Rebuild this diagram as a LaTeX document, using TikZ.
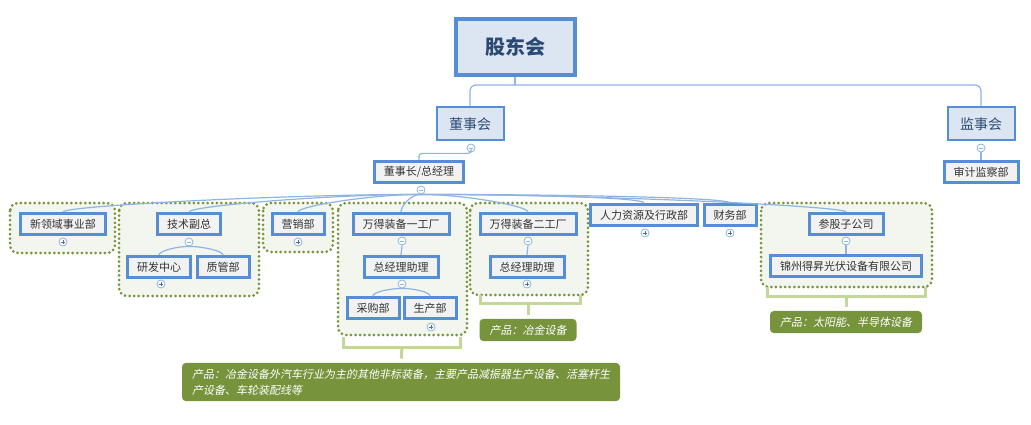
\documentclass[tikz,border=0pt]{standalone}
\usepackage{fontspec}
\setmainfont{Noto Sans CJK SC}
\newfontfamily\noteit[FakeSlant=0.2]{Noto Sans CJK SC}
\definecolor{boxline}{HTML}{558ED5}
\definecolor{boxfill}{HTML}{F2F2F2}
\definecolor{topfill}{HTML}{DCE6F2}
\definecolor{linec}{HTML}{8EB4E3}
\definecolor{olivec}{HTML}{77933C}
\definecolor{grpfill}{HTML}{F3F6EE}
\definecolor{brkc}{HTML}{C3D69B}
\definecolor{txtc}{HTML}{333333}
\definecolor{toptxt}{HTML}{2B4A73}

\begin{document}
\begin{tikzpicture}[
  x=1pt, y=1pt,
  deptbox/.style={
    draw=boxline,
    line width=3pt,
    fill=boxfill,
    text=txtc,
    font=\fontsize{11}{13}\selectfont,
    inner xsep=9.5pt,
    inner ysep=0pt,
    minimum height=21pt
  },
  boardbox/.style={
    draw=boxline,
    line width=2pt,
    fill=topfill,
    text=toptxt,
    font=\fontsize{14}{16}\selectfont,
    minimum width=67pt,
    minimum height=33pt
  },
  topbox/.style={
    draw=boxline,
    line width=4pt,
    fill=topfill,
    text=toptxt,
    font=\bfseries\fontsize{20}{24}\selectfont,
    minimum width=119pt,
    minimum height=56pt
  },
  linkline/.style={draw=linec, line width=1.2pt},
  minusmark/.style={
    circle,
    draw=linec,
    fill=white,
    line width=0.8pt,
    minimum size=8pt,
    inner sep=0pt,
    path picture={
      \draw[linec, line width=0.8pt] ([xshift=-2.2pt]path picture bounding box.center) -- ([xshift=2.2pt]path picture bounding box.center);
    }
  },
  plusmark/.style={
    circle,
    draw=linec,
    fill=white,
    line width=0.8pt,
    minimum size=8pt,
    inner sep=0pt,
    path picture={
      \draw[linec!60!black, line width=0.8pt] ([xshift=-2.2pt]path picture bounding box.center) -- ([xshift=2.2pt]path picture bounding box.center);
      \draw[linec!60!black, line width=0.8pt] ([yshift=-2.2pt]path picture bounding box.center) -- ([yshift=2.2pt]path picture bounding box.center);
    }
  },
  groupframe/.style={
    draw=olivec,
    fill=grpfill,
    line width=3pt,
    dash pattern=on 0pt off 4.6pt,
    line cap=round,
    rounded corners=8pt
  },
  bracketline/.style={draw=brkc, line width=3pt},
  notebox/.style={
    fill=olivec,
    rounded corners=4pt,
    text=white,
    font=\noteit\fontsize{11}{16}\selectfont,
    align=left,
    inner xsep=10pt,
    inner ysep=6pt
  }
]
\useasboundingbox (0,0) rectangle (1031,-425);

% groups
\draw[groupframe] (10,-203) rectangle (115,-253);
\draw[groupframe] (119,-203) rectangle (259,-296);
\draw[groupframe] (263,-203) rectangle (333,-252);
\draw[groupframe] (338,-203) rectangle (467,-335);
\draw[groupframe] (470,-203) rectangle (588,-295);
\draw[groupframe] (761,-203) rectangle (932,-287);

\draw[bracketline] (343,-337) -- (343,-347) -- (460,-347) -- (460,-337);
\draw[bracketline] (480,-295) -- (480,-303) -- (580,-303) -- (580,-295);
\draw[bracketline] (767,-287) -- (767,-296) -- (925,-296) -- (925,-287);

% boxes
\node[topbox] (gdh) at (515,-47) {股东会};
\node[boardbox] (dsh) at (470,-124) {董事会};
\node[boardbox] (jsh) at (981,-124) {监事会};
\node[deptbox] (dsz) at (419,-172) {董事长/总经理};
\node[deptbox] (sjb) at (981,-172) {审计监察部};

\node[deptbox] (xly) at (63,-224) {新领域事业部};
\node[deptbox] (jsf) at (189,-224) {技术副总};
\node[deptbox] (yfz) at (159,-267) {研发中心};
\node[deptbox] (zgb) at (223,-267) {质管部};
\node[deptbox] (yxb) at (298,-224) {营销部};
\node[deptbox] (gc1) at (401,-224) {万得装备一工厂};
\node[deptbox] (zl1) at (401,-267) {总经理助理};
\node[deptbox] (cgb) at (373,-308) {采购部};
\node[deptbox] (scb) at (430,-308) {生产部};
\node[deptbox] (gc2) at (528,-224) {万得装备二工厂};
\node[deptbox] (zl2) at (527,-267) {总经理助理};
\node[deptbox] (rlz) at (644,-215) {人力资源及行政部};
\node[deptbox] (cwb) at (730,-215) {财务部};
\node[deptbox] (cgz) at (846,-224) {参股子公司};
\node[deptbox] (jzd) at (846,-266) {锦州得昇光伏设备有限公司};

\node[notebox] (co1) at (401,-382) {产品：冶金设备外汽车行业为主的其他非标装备，主要产品减振器生产设备、活塞杆生\\产设备、车轮装配线等};
\node[notebox] (co2) at (528,-330) {产品：冶金设备};
\node[notebox] (co3) at (846,-322) {产品：太阳能、半导体设备};

\draw[bracketline, shorten >=4pt] (402,-347) -- (co1.north);
\draw[bracketline, shorten >=4pt] (528,-303) -- (co2.north);
\draw[bracketline, shorten >=4pt] (846,-296) -- (co3.north);

% expand marks
\node[minusmark] (dshm) at (471,-148) {};
\node[minusmark] (jshm) at (981,-148) {};
\node[minusmark] (dszm) at (421,-190) {};
\node[minusmark] (jsfm) at (189,-242) {};
\node[minusmark] (gc1m) at (402,-241) {};
\node[minusmark] (zl1m) at (402,-284) {};
\node[minusmark] (gc2m) at (528,-241) {};
\node[minusmark] (cgzm) at (846,-241) {};
\node[plusmark] (xlyp) at (63,-242) {};
\node[plusmark] (yfzp) at (161,-284) {};
\node[plusmark] (yxbp) at (298,-242) {};
\node[plusmark] (scbp) at (431,-327) {};
\node[plusmark] (zl2p) at (527,-284) {};
\node[plusmark] (rlzp) at (645,-233) {};
\node[plusmark] (cwbp) at (730,-233) {};

% links
\coordinate (gdhj) at (515,-85);
\draw[linkline] (gdh.south) -- (gdhj);
\draw[linkline, rounded corners=6pt] (dsh.north) |- (gdhj) -| (jsh.north);
\draw[linkline, rounded corners=3pt] (dshm.south) -- ++(0,-1) -| (dsz.north);
\draw[linkline] (jshm.south) -- (sjb.north);
\foreach \kid/\dir in {xly/180,jsf/180,yxb/180,gc1/180,gc2/0,rlz/0,cwb/0,cgz/0}
  \draw[linkline] (dszm.south) to[out=\dir, in=90, in distance=6pt] (\kid.north);
\draw[linkline] (jsfm.south) to[out=180, in=90, in distance=4pt] (yfz.north);
\draw[linkline] (jsfm.south) to[out=0, in=90, in distance=4pt] (zgb.north);
\draw[linkline] (zl1m.south) to[out=180, in=90, in distance=4pt] (cgb.north);
\draw[linkline] (zl1m.south) to[out=0, in=90, in distance=4pt] (scb.north);
\draw[linkline] (gc1m.south) -- (zl1.north);
\draw[linkline] (gc2m.south) -- (zl2.north);
\draw[linkline] (cgzm.south) -- (jzd.north);
\end{tikzpicture}
\end{document}
